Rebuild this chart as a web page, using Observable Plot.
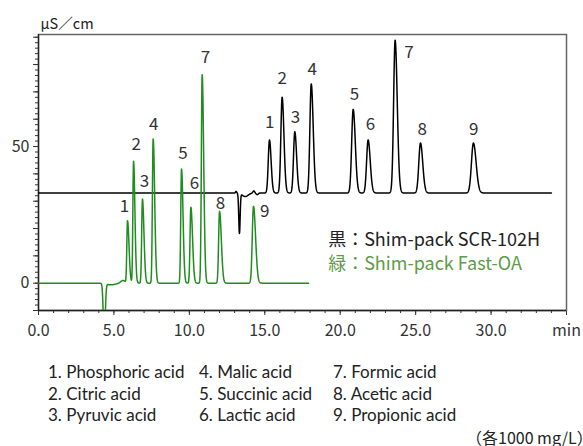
<!DOCTYPE html>
<html><head><meta charset="utf-8">
<script src="https://cdn.jsdelivr.net/npm/d3@7"></script>
<script src="https://cdn.jsdelivr.net/npm/@observablehq/plot@0.6"></script>
<style>
html,body{margin:0;padding:0;background:#fff;}
body{width:583px;height:446px;overflow:hidden;font-family:"Noto Sans CJK JP","Noto Sans",sans-serif;}
#wrap{position:relative;width:583px;height:446px;overflow:hidden;}
#chart svg{display:block;}
#cap{position:absolute;left:0;top:345px;width:583px;height:101px;color:#222;}
.col{position:absolute;top:16px;line-height:21.7px;white-space:nowrap;font-family:Lato,"Noto Sans",sans-serif;font-size:17px;}
.note{position:absolute;left:466px;top:81px;white-space:nowrap;font-family:"Noto Sans CJK JP",sans-serif;font-size:16px;line-height:22px;}
</style></head>
<body><div id="wrap"><div id="chart"></div>
<div id="cap">
 <div class="col" style="left:48px" id="c1"></div>
 <div class="col" style="left:199px" id="c2"></div>
 <div class="col" style="left:333px" id="c3"></div>
 <div class="note" id="note"></div>
</div></div>
<script>
// ---- data ----
const peakNumbers = ["1","2","3","4","5","6","7","8","9"];
const compoundNames = ["Phosphoric acid","Citric acid","Pyruvic acid","Malic acid","Succinic acid","Lactic acid","Formic acid","Acetic acid","Propionic acid"];
const concentrationNote = "（各1000 mg/L）";

// Black trace: Shim-pack SCR-102H (retention time in min, signal in µS/cm)
const blackName = "黒：Shim-pack SCR-102H";
const blackBaseline = 33.0;
const blackEnd = 34.0;
const blackTimes = [15.31, 16.15, 16.99, 18.08, 20.86, 21.85, 23.64, 25.32, 28.83];
const blackApex  = [52.4, 68.0, 55.4, 72.9, 63.6, 52.4, 88.9, 51.3, 51.3];
const blackSigmaL = [0.08, 0.085, 0.085, 0.09, 0.1, 0.1, 0.1, 0.11, 0.13];
const blackSigmaR = [0.11, 0.12, 0.12, 0.13, 0.14, 0.14, 0.14, 0.15, 0.18];
const blackDisturbTimes = [13.1, 13.32, 13.7, 14.27, 14.5];
const blackDisturbValues = [0.6, -14.6, -1.3, 0.8, -0.6];
const blackDisturbSigma = [0.04, 0.045, 0.2, 0.06, 0.07];
const blackLabelTimes = [15.33, 16.15, 17.04, 18.14, 20.95, 22.01, 24.55, 25.43, 28.85];
const blackLabelValues = [58.8, 75.0, 60.6, 78.3, 68.9, 58.0, 84.4, 56.4, 56.4];

// Green trace: Shim-pack Fast-OA
const greenName = "緑：Shim-pack Fast-OA";
const greenBaseline = 0;
const greenEnd = 17.9;
const greenTimes = [5.90, 6.30, 6.89, 7.60, 9.48, 10.10, 10.85, 12.00, 14.25];
const greenApex  = [22.7, 44.6, 30.8, 52.8, 41.8, 27.8, 76.3, 26.3, 28.1];
const greenSigmaL = [0.045, 0.045, 0.05, 0.05, 0.05, 0.055, 0.055, 0.06, 0.08];
const greenSigmaR = [0.1, 0.09, 0.1, 0.1, 0.1, 0.11, 0.1, 0.12, 0.14];
const greenDisturbTimes = [4.36, 4.8, 5.6];
const greenDisturbValues = [-20, -0.6, 1.0];
const greenDisturbSigma = [0.065, 0.3, 0.15];
const greenLabelTimes = [5.70, 6.48, 7.03, 7.64, 9.57, 10.34, 11.07, 12.06, 15.0];
const greenLabelValues = [28.0, 50.7, 37.3, 57.9, 47.5, 36.3, 82.4, 29.0, 26.3];

// axes
const xTicks = [0, 5, 10, 15, 20, 25, 30, 35];
const xTickLabels = ["0.0", "5.0", "10.0", "15.0", "20.0", "25.0", "30.0", "min"];
const xMinorTicks = d3.range(0, 36, 1);
const yTicks = [-10, 0, 10, 20, 30, 40, 50, 60, 70, 80, 90];
const yLabelled = [0, 50];
const yMinorTicks = d3.range(-10, 91, 2);
const yUnit = "μS／cm";

// ---- build traces from the peak table ----
function trace(end, base, times, apex, sL, sR, dT, dV, dS) {
  const pts = [];
  const n = Math.round(end / 0.01);
  for (let i = 0; i <= n; i++) {
    const t = i * 0.01;
    let v = base;
    for (let k = 0; k < times.length; k++) {
      const s = t < times[k] ? sL[k] : sR[k];
      const d = t - times[k];
      v += (apex[k] - base) * Math.exp(-(d * d) / (2 * s * s));
    }
    for (let j = 0; j < dT.length; j++) {
      const d = t - dT[j];
      v += dV[j] * Math.exp(-(d * d) / (2 * dS[j] * dS[j]));
    }
    pts.push({t, v});
  }
  return pts;
}
const black = trace(blackEnd, blackBaseline, blackTimes, blackApex, blackSigmaL, blackSigmaR, blackDisturbTimes, blackDisturbValues, blackDisturbSigma);
const green = trace(greenEnd, greenBaseline, greenTimes, greenApex, greenSigmaL, greenSigmaR, greenDisturbTimes, greenDisturbValues, greenDisturbSigma);

const blackLabels = peakNumbers.map((n, i) => ({n, t: blackLabelTimes[i], v: blackLabelValues[i]}));
const greenLabels = peakNumbers.map((n, i) => ({n, t: greenLabelTimes[i], v: greenLabelValues[i]}));
const legend = [
  {t: 19.2, v: 15.8, s: blackName, c: "#222"},
  {t: 19.2, v: 7.0, s: greenName, c: "#5f9b48"}
];

const fontJP = "'Noto Sans CJK JP','Noto Sans',sans-serif";
const chart = Plot.plot({
  width: 583, height: 345,
  marginLeft: 38, marginRight: 17, marginTop: 34, marginBottom: 35,
  style: {fontFamily: fontJP, fontSize: "16px", color: "#333", background: "#fff"},
  x: {domain: [0, 35], label: null},
  y: {domain: [-10, 91], label: null},
  marks: [
    Plot.axisX({ticks: xMinorTicks, tickSize: 3, tickFormat: () => "", label: null}),
    Plot.axisX({ticks: xTicks, tickSize: 5, tickPadding: 9, label: null, fontSize: 16,
      tickFormat: d => xTickLabels[xTicks.indexOf(d)]}),
    Plot.axisY({ticks: yMinorTicks, tickSize: 3, tickFormat: () => "", label: null}),
    Plot.axisY({ticks: yTicks, tickSize: 5, tickPadding: 4, label: null, fontSize: 16,
      tickFormat: d => yLabelled.includes(d) ? String(d) : ""}),
    Plot.frame({stroke: "#666", strokeWidth: 1.5}),
    Plot.ruleX([0], {stroke: "#222", strokeWidth: 1.3}),
    Plot.ruleY([-10], {stroke: "#222", strokeWidth: 1.3}),
    Plot.line(black, {x: "t", y: "v", stroke: "#000", strokeWidth: 1.5, clip: true}),
    Plot.line(green, {x: "t", y: "v", stroke: "#1f8c1f", strokeWidth: 1.5, clip: true}),
    Plot.text(blackLabels, {x: "t", y: "v", text: "n", fontSize: 17, fill: "#333", lineAnchor: "middle"}),
    Plot.text(greenLabels, {x: "t", y: "v", text: "n", fontSize: 17, fill: "#333", lineAnchor: "middle"}),
    Plot.text(legend, {x: "t", y: "v", text: "s", fill: "c", fontSize: 18, textAnchor: "start", lineAnchor: "middle"}),
    Plot.text([yUnit], {frameAnchor: "top-left", text: d => d, dx: 2, dy: -10, textAnchor: "start", lineAnchor: "middle", fontSize: 14.5, fill: "#222"})
  ]
});
document.getElementById("chart").appendChild(chart);

const cols = [document.getElementById("c1"), document.getElementById("c2"), document.getElementById("c3")];
compoundNames.forEach((name, i) => {
  const div = document.createElement("div");
  div.textContent = peakNumbers[i] + ". " + name;
  cols[Math.floor(i / 3)].appendChild(div);
});
document.getElementById("note").textContent = concentrationNote;
</script>
</body></html>
